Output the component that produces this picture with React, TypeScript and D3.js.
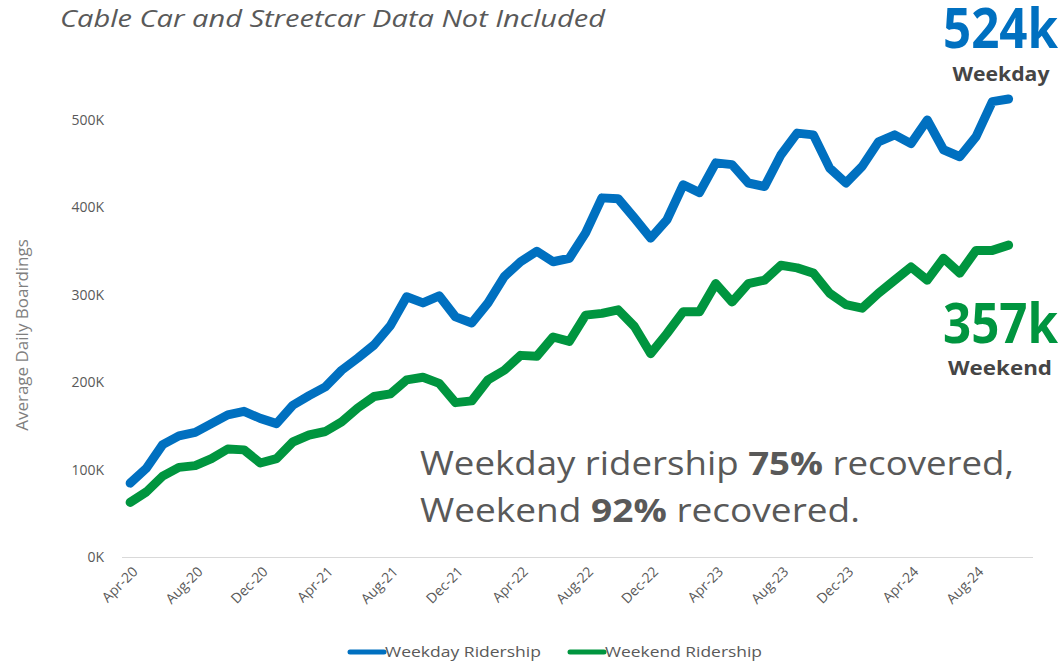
import * as d3 from 'd3';

// Average daily boardings (thousands), Apr-20 .. Oct-24
const weekday = [85, 102, 129, 139, 143, 153, 163, 167, 159, 153, 174, 185, 195, 214, 228, 243, 265, 298, 291, 299, 275, 268, 291, 321, 338, 350, 338, 342, 371, 411, 410, 388, 365, 386, 426, 417, 451, 449, 428, 424, 460, 485, 483, 445, 428, 447, 475, 483, 473, 500, 466, 458, 481, 521, 524];
const weekend = [63, 75, 93, 103, 105, 113, 124, 123, 108, 113, 132, 140, 144, 155, 171, 184, 187, 203, 206, 199, 177, 179, 203, 214, 231, 230, 252, 247, 277, 279, 283, 264, 233, 256, 281, 281, 313, 292, 313, 317, 334, 331, 325, 302, 289, 285, 302, 317, 332, 317, 342, 325, 351, 351, 357];

// axis runs one month past the data (Nov-24 is empty)
const months = d3.timeMonth.range(new Date(2020, 3, 1), new Date(2024, 11, 1));
const fmt = d3.timeFormat('%b-%y');
const tickLabels = ['Apr-20', 'Aug-20', 'Dec-20', 'Apr-21', 'Aug-21', 'Dec-21', 'Apr-22', 'Aug-22', 'Dec-22', 'Apr-23', 'Aug-23', 'Dec-23', 'Apr-24', 'Aug-24'];
const yTicks = [0, 100, 200, 300, 400, 500];

const BLUE = '#0070C0';
const GREEN = '#00953F';
const GREY = '#595959';
const FONT = '"Open Sans", sans-serif';

export default function App() {
  const W = 1062;
  const H = 664;

  const x = d3.scaleBand<string>().domain(months.map(fmt)).range([122, 1033]).padding(0);
  const y = d3.scaleLinear().domain([0, 500]).range([557.5, 120]);
  const cx = (i: number) => (x(fmt(months[i])) || 0) + x.bandwidth() / 2;

  const line = d3
    .line<number>()
    .x((_, i) => cx(i))
    .y((d) => y(d));

  return (
    <svg width={W} height={H} style={{ position: 'absolute', left: 0, top: 0, background: '#fff' }} fontFamily={FONT}>
      {/* subtitle */}
      <text x={60} y={27} fontSize={23} fontStyle="italic" fill={GREY} textLength={545} lengthAdjust="spacingAndGlyphs">
        Cable Car and Streetcar Data Not Included
      </text>

      {/* y axis labels */}
      {yTicks.map((t) => (
        <text key={t} x={104} y={y(t)} dy="0.35em" textAnchor="end" fontSize={14} fill={GREY}>
          {t}K
        </text>
      ))}
      <text transform="translate(22,335) rotate(-90)" textAnchor="middle" fontSize={17} fill="#7f7f7f" dy="0.35em">
        Average Daily Boardings
      </text>

      {/* baseline */}
      <line x1={122} x2={1033} y1={y(0)} y2={y(0)} stroke="#d9d9d9" strokeWidth={1} />

      {/* x tick labels */}
      {tickLabels.map((lab) => {
        const px = (x(lab) || 0) + x.bandwidth() / 2;
        return (
          <text key={lab} transform={`translate(${px + 5},${569}) rotate(-45)`} textAnchor="end" fontSize={14} fill={GREY} dy="0.35em">
            {lab}
          </text>
        );
      })}

      {/* series */}
      <path d={line(weekday) || ''} fill="none" stroke={BLUE} strokeWidth={9} strokeLinejoin="round" strokeLinecap="round" />
      <path d={line(weekend) || ''} fill="none" stroke={GREEN} strokeWidth={9} strokeLinejoin="round" strokeLinecap="round" />

      {/* end callouts */}
      <text x={1058} y={48} textAnchor="end" fontSize={55} fontWeight={700} fill={BLUE} textLength={115} lengthAdjust="spacingAndGlyphs">
        {weekday[weekday.length - 1]}k
      </text>
      <text x={1001} y={81} textAnchor="middle" fontSize={19} fontWeight={700} fill="#454545" textLength={97} lengthAdjust="spacingAndGlyphs">
        Weekday
      </text>
      <text x={1058} y={343} textAnchor="end" fontSize={55} fontWeight={700} fill={GREEN} textLength={115} lengthAdjust="spacingAndGlyphs">
        {weekend[weekend.length - 1]}k
      </text>
      <text x={1000} y={375} textAnchor="middle" fontSize={19} fontWeight={700} fill="#454545" textLength={104} lengthAdjust="spacingAndGlyphs">
        Weekend
      </text>

      {/* recovery note */}
      <text x={420} y={475} fontSize={33} fill={GREY} textLength={594} lengthAdjust="spacingAndGlyphs">
        Weekday ridership <tspan fontWeight={700}>75%</tspan> recovered,
      </text>
      <text x={420} y={522} fontSize={33} fill={GREY} textLength={440} lengthAdjust="spacingAndGlyphs">
        Weekend <tspan fontWeight={700}>92%</tspan> recovered.
      </text>

      {/* legend */}
      <line x1={350} x2={384} y1={652} y2={652} stroke={BLUE} strokeWidth={5} strokeLinecap="round" />
      <text x={385} y={652} dy="0.35em" fontSize={15} fill={GREY} textLength={156} lengthAdjust="spacingAndGlyphs">
        Weekday Ridership
      </text>
      <line x1={570} x2={604} y1={652} y2={652} stroke={GREEN} strokeWidth={5} strokeLinecap="round" />
      <text x={605} y={652} dy="0.35em" fontSize={15} fill={GREY} textLength={157} lengthAdjust="spacingAndGlyphs">
        Weekend Ridership
      </text>
    </svg>
  );
}
